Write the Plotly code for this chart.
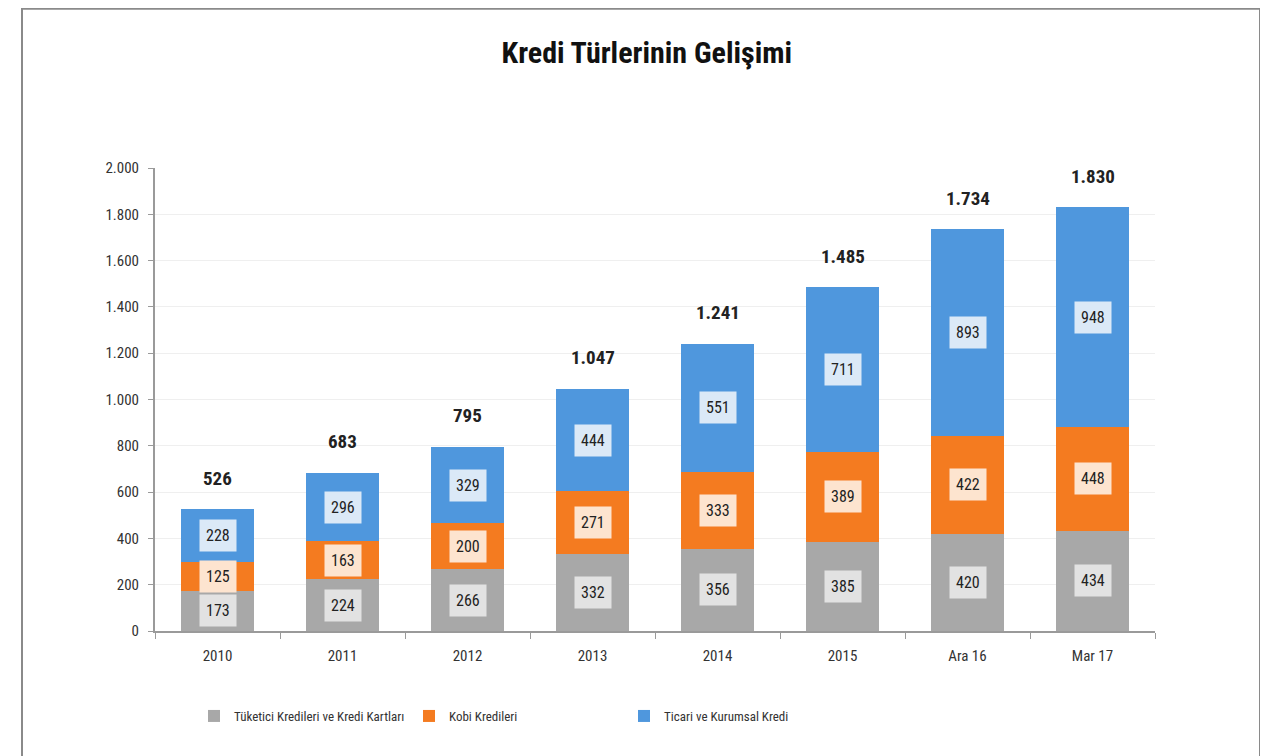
import plotly.graph_objects as go

categories = ["2010", "2011", "2012", "2013", "2014", "2015", "Ara 16", "Mar 17"]
tuketici = [173, 224, 266, 332, 356, 385, 420, 434]
kobi = [125, 163, 200, 271, 333, 389, 422, 448]
ticari = [228, 296, 329, 444, 551, 711, 893, 948]
totals = [526, 683, 795, 1047, 1241, 1485, 1734, 1830]
total_labels = ["526", "683", "795", "1.047", "1.241", "1.485", "1.734", "1.830"]
y_ticks = [0, 200, 400, 600, 800, 1000, 1200, 1400, 1600, 1800, 2000]

FONT = "Liberation Sans Narrow, Arial Narrow, Roboto Condensed, Liberation Sans, sans-serif"

series = [
    ("Tüketici Kredileri ve Kredi Kartları", tuketici, "#a8a8a8", "#e2e2e2"),
    ("Kobi Kredileri", kobi, "#f47b20", "#fde4cf"),
    ("Ticari ve Kurumsal Kredi", ticari, "#4f97dd", "#dbe9f7"),
]

fig = go.Figure()
base = [0] * len(categories)
annotations = []
for name, vals, color, bg in series:
    fig.add_trace(go.Bar(
        x=categories, y=vals, name=name,
        marker=dict(color=color, line=dict(width=0)),
        hoverinfo="skip",
    ))
    for i, v in enumerate(vals):
        annotations.append(dict(
            x=i, y=base[i] + v / 2, xref="x", yref="y",
            text=str(v), showarrow=False,
            font=dict(family=FONT, size=16, color="#222"),
            bgcolor=bg, borderpad=6,
        ))
        base[i] += v

for i, t in enumerate(totals):
    annotations.append(dict(
        x=i, y=t, xref="x", yref="y",
        text="<b>" + total_labels[i] + "</b>", showarrow=False,
        font=dict(family=FONT, size=19, color="#222"),
        yshift=31,
    ))

fig.update_layout(
    barmode="stack",
    bargap=0.42,
    width=1260, height=748,
    margin=dict(l=147, r=113, t=160, b=125),
    paper_bgcolor="white", plot_bgcolor="white",
    separators=",.",
    font=dict(family=FONT, size=13, color="#333"),
    title=dict(text="<b>Kredi Türlerinin Gelişimi</b>", x=0.507, xanchor="center",
               y=0.94, yanchor="middle",
               font=dict(family=FONT, size=30, color="#111")),
    showlegend=True,
    legend=dict(orientation="h", x=0.039, xanchor="left", y=-0.1836, yanchor="middle",
                font=dict(family=FONT, size=13, color="#333"),
                traceorder="normal", itemwidth=30, entrywidth=170, entrywidthmode="pixels"),
    annotations=annotations,
    shapes=[dict(type="rect", xref="paper", yref="paper",
                 x0=-0.133, x1=1.105, y0=-0.35, y1=1.344,
                 line=dict(color="#8a8a8a", width=2), fillcolor="rgba(0,0,0,0)", layer="below")],
)
fig.update_yaxes(range=[0, 2000], tickvals=y_ticks, tickformat=",d",
                 showgrid=True, gridcolor="#efefef", gridwidth=1,
                 showline=True, linecolor="#9a9a9a", linewidth=2,
                 ticks="outside", ticklen=5, tickcolor="#9a9a9a", ticklabelstandoff=6,
                 tickfont=dict(family=FONT, size=15, color="#333"), zeroline=False)
fig.update_xaxes(type="category", categoryorder="array", categoryarray=categories,
                 range=[-0.5, len(categories) - 0.5],
                 showline=True, linecolor="#9a9a9a", linewidth=2,
                 ticks="outside", ticklen=6, tickcolor="#9a9a9a", tickson="boundaries",
                 ticklabelstandoff=10,
                 tickfont=dict(family=FONT, size=15, color="#333"))

fig.write_html("out.html")
